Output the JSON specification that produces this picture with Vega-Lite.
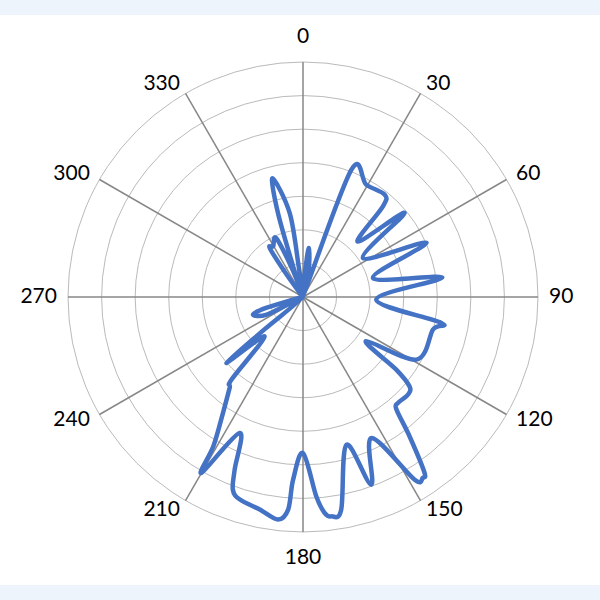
{
  "$schema": "https://vega.github.io/schema/vega-lite/v6.json",
  "width": 600,
  "height": 600,
  "autosize": {"type": "none"},
  "padding": 0,
  "background": "#eef4fc",
  "config": {"view": {"stroke": null}},
  "datasets": {
    "curve": [
      {"angle": 0, "value": 0.1},
      {"angle": 3, "value": 0.5},
      {"angle": 5.5, "value": 1.1},
      {"angle": 6.5, "value": 1.47},
      {"angle": 9.5, "value": 1.15},
      {"angle": 14, "value": 0.6},
      {"angle": 17, "value": 0.15},
      {"angle": 20.8, "value": 4.05},
      {"angle": 29.4, "value": 3.84},
      {"angle": 38.6, "value": 3.9},
      {"angle": 41.4, "value": 3.6},
      {"angle": 44.7, "value": 2.32},
      {"angle": 50.4, "value": 3.93},
      {"angle": 57, "value": 2.13},
      {"angle": 66.3, "value": 4.02},
      {"angle": 74.8, "value": 2.16},
      {"angle": 82, "value": 4.19},
      {"angle": 92, "value": 2.18},
      {"angle": 100.6, "value": 4.19},
      {"angle": 104, "value": 3.99},
      {"angle": 118.9, "value": 3.86},
      {"angle": 125, "value": 2.29},
      {"angle": 127.9, "value": 3.52},
      {"angle": 130, "value": 4.14},
      {"angle": 132.9, "value": 4.27},
      {"angle": 138.1, "value": 4.24},
      {"angle": 140.2, "value": 4.34},
      {"angle": 142.6, "value": 5.23},
      {"angle": 145.3, "value": 6.35},
      {"angle": 146.5, "value": 6.46},
      {"angle": 148.6, "value": 6.37},
      {"angle": 154.1, "value": 4.67},
      {"angle": 160, "value": 5.95},
      {"angle": 163.6, "value": 4.59},
      {"angle": 169.8, "value": 6.43},
      {"angle": 172.6, "value": 6.59},
      {"angle": 174.3, "value": 6.46},
      {"angle": 176.2, "value": 5.95},
      {"angle": 180, "value": 4.65},
      {"angle": 183.1, "value": 5.45},
      {"angle": 184, "value": 6.35},
      {"angle": 186.4, "value": 6.67},
      {"angle": 191.5, "value": 6.46},
      {"angle": 197.3, "value": 6.32},
      {"angle": 200, "value": 6.11},
      {"angle": 201.6, "value": 5.53},
      {"angle": 205, "value": 4.47},
      {"angle": 210, "value": 6.05},
      {"angle": 211, "value": 5.18},
      {"angle": 214.6, "value": 4.2},
      {"angle": 218.9, "value": 3.48},
      {"angle": 220.9, "value": 3.25},
      {"angle": 224.2, "value": 1.64},
      {"angle": 229.3, "value": 3.01},
      {"angle": 230, "value": 1.5},
      {"angle": 233, "value": 0.1},
      {"angle": 244, "value": 1.2},
      {"angle": 250.7, "value": 1.58},
      {"angle": 253.5, "value": 1.15},
      {"angle": 260, "value": 0.1},
      {"angle": 290, "value": 0.05},
      {"angle": 320, "value": 0.1},
      {"angle": 324, "value": 0.9},
      {"angle": 325.8, "value": 1.76},
      {"angle": 329.5, "value": 1.75},
      {"angle": 335.5, "value": 1.93},
      {"angle": 339, "value": 0.9},
      {"angle": 341, "value": 0.15},
      {"angle": 342, "value": 0.9},
      {"angle": 343.4, "value": 2.61},
      {"angle": 345.6, "value": 3.65},
      {"angle": 351, "value": 2.53},
      {"angle": 352, "value": 0.9},
      {"angle": 355, "value": 0.1},
      {"angle": 360, "value": 0.1}
    ],
    "rings": [{"ring": 1}, {"ring": 2}, {"ring": 3}, {"ring": 4}, {"ring": 5}, {"ring": 6}, {"ring": 7}],
    "spokes": [
      {"angle": 0}, {"angle": 30}, {"angle": 60}, {"angle": 90}, {"angle": 120}, {"angle": 150},
      {"angle": 180}, {"angle": 210}, {"angle": 240}, {"angle": 270}, {"angle": 300}, {"angle": 330}
    ]
  },
  "layer": [
    {
      "data": {"values": [{}]},
      "transform": [
        {"calculate": "-9.026", "as": "bx1"},
        {"calculate": "8.847", "as": "bx2"},
        {"calculate": "8.4", "as": "by1"},
        {"calculate": "-8.58", "as": "by2"}
      ],
      "mark": {"type": "rect", "color": "white"},
      "encoding": {
        "x": {"field": "bx1", "type": "quantitative", "scale": {"domain": [-9.026, 8.847], "nice": false, "zero": false}, "axis": null},
        "x2": {"field": "bx2"},
        "y": {"field": "by1", "type": "quantitative", "scale": {"domain": [-9.026, 8.847], "nice": false, "zero": false}, "axis": null},
        "y2": {"field": "by2"}
      }
    },
    {
      "data": {"name": "rings"},
      "transform": [
        {"calculate": "0", "as": "cx"},
        {"calculate": "0", "as": "cy"},
        {"calculate": "1", "as": "full"}
      ],
      "mark": {"type": "arc", "filled": false, "fill": null, "stroke": "#bababa", "strokeWidth": 1},
      "encoding": {
        "x": {"field": "cx", "type": "quantitative", "scale": {"domain": [-9.026, 8.847], "nice": false, "zero": false}, "axis": null},
        "y": {"field": "cy", "type": "quantitative", "scale": {"domain": [-9.026, 8.847], "nice": false, "zero": false}, "axis": null},
        "theta": {"field": "full", "type": "quantitative", "stack": null, "scale": {"domain": [0, 1]}},
        "radius": {"field": "ring", "type": "quantitative", "scale": {"type": "linear", "domain": [0, 8.937], "zero": true, "nice": false}, "legend": null}
      }
    },
    {
      "data": {"name": "spokes"},
      "transform": [
        {"calculate": "0", "as": "cx"},
        {"calculate": "0", "as": "cy"},
        {"calculate": "7*sin(datum.angle*PI/180)", "as": "sx"},
        {"calculate": "7*cos(datum.angle*PI/180)", "as": "sy"}
      ],
      "mark": {"type": "rule", "color": "#878787", "strokeWidth": 1.5},
      "encoding": {
        "x": {"field": "cx", "type": "quantitative", "scale": {"domain": [-9.026, 8.847], "nice": false, "zero": false}, "axis": null},
        "y": {"field": "cy", "type": "quantitative", "scale": {"domain": [-9.026, 8.847], "nice": false, "zero": false}, "axis": null},
        "x2": {"field": "sx"},
        "y2": {"field": "sy"}
      }
    },
    {
      "data": {"name": "curve"},
      "transform": [
        {"calculate": "datum.value*sin(datum.angle*PI/180)", "as": "px"},
        {"calculate": "datum.value*cos(datum.angle*PI/180)", "as": "py"}
      ],
      "mark": {"type": "line", "color": "#4472c4", "strokeWidth": 4.5, "interpolate": "cardinal", "strokeJoin": "round", "strokeCap": "round"},
      "encoding": {
        "x": {"field": "px", "type": "quantitative", "scale": {"domain": [-9.026, 8.847], "nice": false, "zero": false}, "axis": null},
        "y": {"field": "py", "type": "quantitative", "scale": {"domain": [-9.026, 8.847], "nice": false, "zero": false}, "axis": null},
        "order": {"field": "angle", "type": "quantitative"}
      }
    },
    {
      "data": {"name": "spokes"},
      "transform": [
        {"filter": "datum.angle > 0 && datum.angle < 180"},
        {"calculate": "7.33*sin(datum.angle*PI/180)", "as": "lx"},
        {"calculate": "7.33*cos(datum.angle*PI/180)", "as": "ly"}
      ],
      "mark": {"type": "text", "align": "left", "baseline": "middle", "font": "Lato", "fontSize": 21, "color": "#000000"},
      "encoding": {
        "x": {"field": "lx", "type": "quantitative", "scale": {"domain": [-9.026, 8.847], "nice": false, "zero": false}, "axis": null},
        "y": {"field": "ly", "type": "quantitative", "scale": {"domain": [-9.026, 8.847], "nice": false, "zero": false}, "axis": null},
        "text": {"field": "angle", "type": "quantitative", "format": "d"}
      }
    },
    {
      "data": {"name": "spokes"},
      "transform": [
        {"filter": "datum.angle > 180"},
        {"calculate": "7.33*sin(datum.angle*PI/180)", "as": "lx"},
        {"calculate": "7.33*cos(datum.angle*PI/180)", "as": "ly"}
      ],
      "mark": {"type": "text", "align": "right", "baseline": "middle", "font": "Lato", "fontSize": 21, "color": "#000000"},
      "encoding": {
        "x": {"field": "lx", "type": "quantitative", "scale": {"domain": [-9.026, 8.847], "nice": false, "zero": false}, "axis": null},
        "y": {"field": "ly", "type": "quantitative", "scale": {"domain": [-9.026, 8.847], "nice": false, "zero": false}, "axis": null},
        "text": {"field": "angle", "type": "quantitative", "format": "d"}
      }
    },
    {
      "data": {"name": "spokes"},
      "transform": [
        {"filter": "datum.angle == 0"},
        {"calculate": "7.45*sin(datum.angle*PI/180)", "as": "lx"},
        {"calculate": "7.45*cos(datum.angle*PI/180)", "as": "ly"}
      ],
      "mark": {"type": "text", "align": "center", "baseline": "bottom", "font": "Lato", "fontSize": 21, "color": "#000000"},
      "encoding": {
        "x": {"field": "lx", "type": "quantitative", "scale": {"domain": [-9.026, 8.847], "nice": false, "zero": false}, "axis": null},
        "y": {"field": "ly", "type": "quantitative", "scale": {"domain": [-9.026, 8.847], "nice": false, "zero": false}, "axis": null},
        "text": {"field": "angle", "type": "quantitative", "format": "d"}
      }
    },
    {
      "data": {"name": "spokes"},
      "transform": [
        {"filter": "datum.angle == 180"},
        {"calculate": "7.45*sin(datum.angle*PI/180)", "as": "lx"},
        {"calculate": "7.45*cos(datum.angle*PI/180)", "as": "ly"}
      ],
      "mark": {"type": "text", "align": "center", "baseline": "top", "font": "Lato", "fontSize": 21, "color": "#000000"},
      "encoding": {
        "x": {"field": "lx", "type": "quantitative", "scale": {"domain": [-9.026, 8.847], "nice": false, "zero": false}, "axis": null},
        "y": {"field": "ly", "type": "quantitative", "scale": {"domain": [-9.026, 8.847], "nice": false, "zero": false}, "axis": null},
        "text": {"field": "angle", "type": "quantitative", "format": "d"}
      }
    }
  ]
}
